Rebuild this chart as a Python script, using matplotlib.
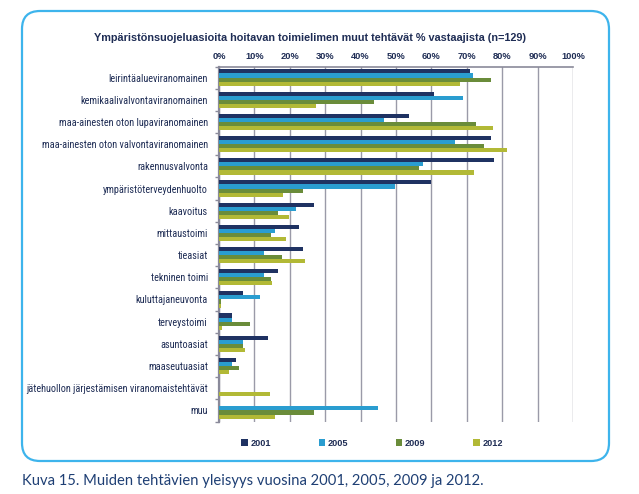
import matplotlib
matplotlib.use("Agg")
import matplotlib.pyplot as plt
from matplotlib.patches import FancyBboxPatch
from matplotlib import font_manager
import numpy as np

categories = [
    "leirintäalueviranomainen",
    "kemikaalivalvontaviranomainen",
    "maa-ainesten oton lupaviranomainen",
    "maa-ainesten oton valvontaviranomainen",
    "rakennusvalvonta",
    "ympäristöterveydenhuolto",
    "kaavoitus",
    "mittaustoimi",
    "tieasiat",
    "tekninen toimi",
    "kuluttajaneuvonta",
    "terveystoimi",
    "asuntoasiat",
    "maaseutuasiat",
    "jätehuollon järjestämisen viranomaistehtävät",
    "muu",
]

years = ["2001", "2005", "2009", "2012"]
v2001 = [70.8, 60.7, 53.8, 76.8, 77.8, 59.8, 26.7, 22.7, 23.7, 16.8, 6.7, 3.7, 13.8, 4.7, 0.0, 0.0]
v2005 = [71.7, 68.8, 46.7, 66.7, 57.7, 49.7, 21.7, 15.7, 12.7, 12.7, 11.7, 3.7, 6.7, 3.7, 0.0, 44.9]
v2009 = [76.8, 43.7, 72.7, 74.8, 56.6, 23.7, 16.8, 14.7, 17.7, 14.7, 0.7, 8.8, 6.7, 5.7, 0.0, 26.8]
v2012 = [68.2, 27.4, 77.5, 81.3, 72.0, 18.2, 19.7, 19.0, 24.3, 15.1, 0.7, 0.8, 7.4, 2.8, 14.5, 15.8]
series = [v2001, v2005, v2009, v2012]
colors = ["#1F3262", "#2A9DD0", "#6A8C3A", "#B2B936"]

title = "Ympäristönsuojeluasioita hoitavan toimielimen muut tehtävät % vastaajista (n=129)"
caption = "Kuva 15. Muiden tehtävien yleisyys vuosina 2001, 2005, 2009 ja 2012."
xticks = np.arange(0, 101, 10)

# ---- font choice: prefer a condensed sans if one is installed
cond = [f for f in font_manager.fontManager.ttflist
        if str(f.stretch) in ("condensed", "semi-condensed", "extra-condensed")
        and f.style == "normal" and f.weight in (400, "normal", "regular")]
label_font = None
for cand in ["Roboto Condensed", "Liberation Sans Narrow", "Open Sans Condensed", "Noto Sans", "DejaVu Sans"]:
    hits = [f for f in cond if f.name == cand]
    if hits:
        label_font = font_manager.FontProperties(fname=hits[0].fname)
        break
if label_font is None:
    label_font = font_manager.FontProperties(family=["Lato", "Liberation Sans", "DejaVu Sans"])
plt.rcParams['font.family'] = ["Liberation Sans", "DejaVu Sans"]

W, H = 639, 494
fig = plt.figure(figsize=(W / 100, H / 100), dpi=100)
renderer = fig.canvas.get_renderer()


def fit(txt, target_px, start):
    txt.set_fontsize(start)
    w = txt.get_window_extent(renderer).width
    txt.set_fontsize(start * target_px / w)


# background axes in pixel coordinates
bg = fig.add_axes([0, 0, 1, 1])
bg.set_xlim(0, W)
bg.set_ylim(H, 0)
bg.axis("off")
box = FancyBboxPatch((22, 11), 587, 450, boxstyle="round,pad=0,rounding_size=18",
                     facecolor="white", edgecolor="#3DB4EC", linewidth=1.6)
bg.add_patch(box)
t_title = bg.text(310, 38, title, ha="center", va="center", fontweight="bold", color="#1F2D55")
fit(t_title, 434, 8.0)
t_cap = bg.text(22, 481, caption, ha="left", va="center", color="#1E3F74",
                family=["Lato", "Liberation Sans", "DejaVu Sans"])
fit(t_cap, 462, 11.0)

ax = fig.add_axes([219 / W, 1 - 421.5 / H, (573 - 219) / W, (421.5 - 66.5) / H])
n = len(categories)
y = np.arange(n)
bh = 0.185
offsets = [-1.5 * bh, -0.5 * bh, 0.5 * bh, 1.5 * bh]
for s, c, off, yr in zip(series, colors, offsets, years):
    ax.barh(y + off, s, height=bh, color=c, label=yr, zorder=3)

ax.set_ylim(n - 0.5, -0.5)
ax.set_xlim(0, 100)
ax.xaxis.tick_top()
ax.set_xticks(xticks)
ax.set_xticklabels([f"{t}%" for t in xticks], fontsize=6.7, fontweight="bold", color="#1F2D55")
ax.tick_params(axis="x", length=0, pad=4)
ax.set_yticks(y)
ylabels = ax.set_yticklabels(categories, color="#1F2D55")
ax.tick_params(axis="y", length=0, pad=8)
ax.set_yticks(np.arange(-0.5, n, 1), minor=True)
ax.tick_params(axis="y", which="minor", length=3, color="#8A8A9A", width=1)
ax.grid(axis="x", color="#9A9AA8", linewidth=1.0, zorder=0)
for sp in ["right", "bottom"]:
    ax.spines[sp].set_visible(False)
ax.spines["top"].set_color("#8A8A9A")
ax.spines["top"].set_linewidth(1.2)
ax.spines["left"].set_color("#8A8A9A")
ax.spines["left"].set_linewidth(1.6)

# size category labels so the longest one spans the reference width
for t in ylabels:
    t.set_fontproperties(label_font)
    t.set_fontsize(8.0)
widest = max(ylabels, key=lambda t: t.get_window_extent(renderer).width)
w = widest.get_window_extent(renderer).width
size = 8.0 * 183 / w
for t in ylabels:
    t.set_fontsize(size)

handles, labels = ax.get_legend_handles_labels()
leg = fig.legend(handles, labels, loc="center", bbox_to_anchor=(372 / W, 1 - 443 / H), ncol=4,
                 frameon=False, fontsize=6.6, handlelength=0.7, handleheight=0.7,
                 handletextpad=0.3, columnspacing=5.2)
for t in leg.get_texts():
    t.set_fontweight("bold")
    t.set_color("#1F2D55")

fig.savefig("out.png", dpi=100)
